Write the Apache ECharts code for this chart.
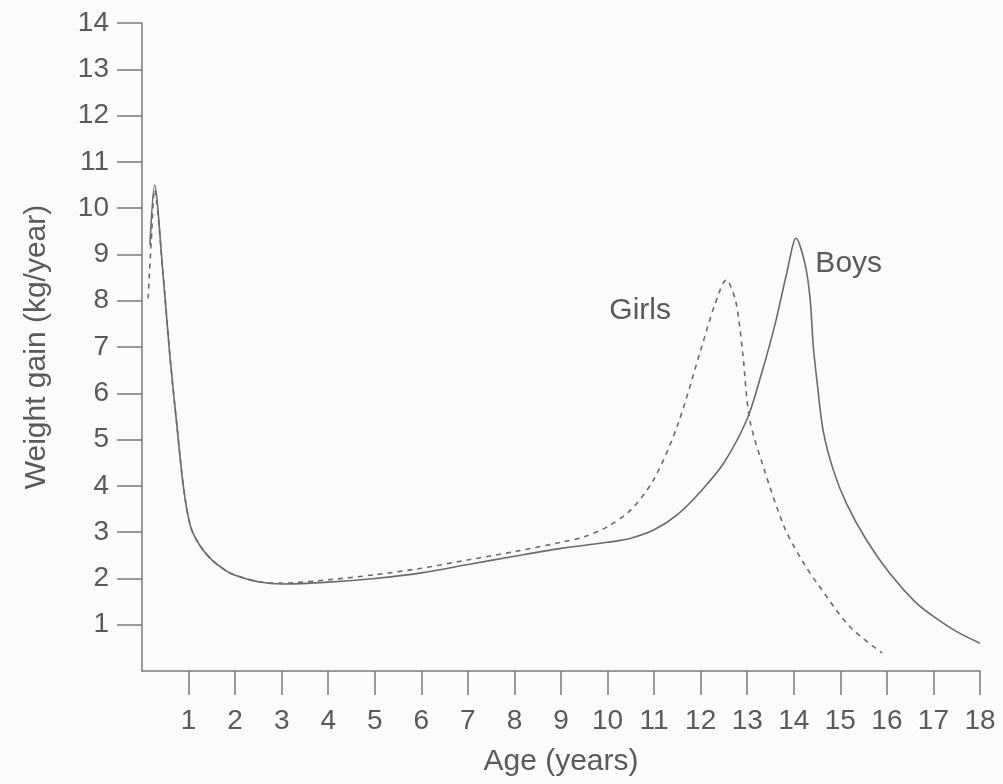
<!DOCTYPE html>
<html>
<head>
<meta charset="utf-8">
<script src="https://cdn.jsdelivr.net/npm/echarts@6/dist/echarts.min.js"></script>
<style>
html,body{margin:0;padding:0;background:#fbfbfb;}
#chart{width:1003px;height:784px;}
</style>
</head>
<body>
<div id="chart"></div>
<script>
// Data
var boysAge   = [0.17, 0.27, 0.45, 0.6, 0.75, 0.9, 1.05, 1.25, 1.5, 1.8, 2.0, 2.5, 3.0, 4.0, 5.0, 6.0, 7.0, 8.0, 9.0, 10.0, 10.5, 11.0, 11.5, 12.0, 12.5, 13.0, 13.3, 13.6, 13.85, 14.05, 14.24, 14.35, 14.42, 14.5, 14.63, 14.85, 15.13, 15.56, 16.06, 16.6, 17.0, 17.5, 18.0];
var boysGain  = [9.2, 10.5, 8.6, 6.8, 5.3, 3.9, 3.1, 2.7, 2.4, 2.17, 2.07, 1.93, 1.88, 1.92, 2.0, 2.12, 2.3, 2.48, 2.65, 2.78, 2.87, 3.05, 3.38, 3.88, 4.5, 5.45, 6.4, 7.5, 8.6, 9.35, 8.8, 8.05, 7.0, 6.25, 5.2, 4.34, 3.62, 2.83, 2.11, 1.5, 1.18, 0.85, 0.6];
var girlsAge  = [0.13, 0.2, 0.27, 0.45, 0.6, 0.75, 0.9, 1.05, 1.25, 1.5, 1.8, 2.0, 2.5, 3.0, 4.0, 5.0, 6.0, 7.0, 8.0, 9.0, 9.5, 10.0, 10.5, 11.0, 11.5, 12.0, 12.3, 12.55, 12.75, 12.9, 13.05, 13.35, 13.8, 14.2, 14.5, 15.2, 15.9];
var girlsGain = [8.05, 9.3, 10.4, 8.6, 6.8, 5.3, 3.9, 3.1, 2.7, 2.4, 2.17, 2.07, 1.93, 1.9, 1.97, 2.08, 2.22, 2.4, 2.58, 2.78, 2.9, 3.12, 3.48, 4.15, 5.3, 6.93, 7.9, 8.45, 8.0, 6.9, 5.45, 4.4, 3.1, 2.35, 1.9, 0.96, 0.39];
var xTicks = [1,2,3,4,5,6,7,8,9,10,11,12,13,14,15,16,17,18];
var yTicks = [1,2,3,4,5,6,7,8,9,10,11,12,13,14];
var seriesNames = ['Boys', 'Girls'];
var labelPos = { Boys: [15.18, 8.79], Girls: [10.70, 7.78] };

function pairs(xs, ys){ return xs.map(function(x,i){ return [x, ys[i]]; }); }

var textColor = '#5a5a5a';
var lineColor = '#6b6b6b';
var axisColor = '#7a7a7a';
var font = 'Liberation Sans';

var chart = echarts.init(document.getElementById('chart'), null, {renderer:'canvas'});
chart.setOption({
  backgroundColor: '#fbfbfb',
  animation: false,
  grid: { left: 142, right: 23, top: 23, bottom: 113, containLabel: false },
  xAxis: {
    type: 'value', min: 0, max: 18, interval: 1,
    name: 'Age (years)', nameLocation: 'middle', nameGap: 76,
    nameTextStyle: { fontFamily: font, fontSize: 30, color: textColor },
    axisLine: { show: true, onZero: false, lineStyle: { color: axisColor, width: 1.5 } },
    axisTick: { show: true, length: 24, customValues: xTicks, lineStyle: { color: axisColor, width: 1.5 } },
    axisLabel: { show: true, customValues: xTicks, margin: 36, fontFamily: font, fontSize: 28, color: textColor },
    splitLine: { show: false }
  },
  yAxis: {
    type: 'value', min: 0, max: 14, interval: 1,
    name: 'Weight gain (kg/year)', nameLocation: 'middle', nameGap: 90, nameRotate: 90,
    nameTextStyle: { fontFamily: font, fontSize: 30, color: textColor },
    axisLine: { show: true, onZero: false, lineStyle: { color: axisColor, width: 1.5 } },
    axisTick: { show: true, length: 25, customValues: yTicks, lineStyle: { color: axisColor, width: 1.5 } },
    axisLabel: { show: true, customValues: yTicks, margin: 33, fontFamily: font, fontSize: 28, color: textColor },
    splitLine: { show: false }
  },
  series: [
    {
      name: seriesNames[0], type: 'line', data: pairs(boysAge, boysGain),
      showSymbol: false, smooth: 0.3,
      lineStyle: { color: lineColor, width: 1.6, type: 'solid' },
      markPoint: {
        symbol: 'circle', symbolSize: 0, silent: true,
        label: { show: true, position: 'inside', formatter: seriesNames[0], fontFamily: font, fontSize: 30, color: textColor },
        data: [{ coord: labelPos.Boys }]
      }
    },
    {
      name: seriesNames[1], type: 'line', data: pairs(girlsAge, girlsGain),
      showSymbol: false, smooth: 0.3,
      lineStyle: { color: lineColor, width: 1.6, type: [5, 5] },
      markPoint: {
        symbol: 'circle', symbolSize: 0, silent: true,
        label: { show: true, position: 'inside', formatter: seriesNames[1], fontFamily: font, fontSize: 30, color: textColor },
        data: [{ coord: labelPos.Girls }]
      }
    }
  ]
});
</script>
</body>
</html>
